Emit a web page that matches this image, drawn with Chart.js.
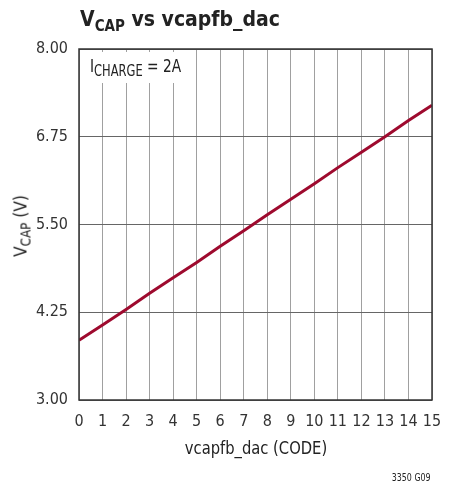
<!DOCTYPE html>
<html>
<head>
<meta charset="utf-8">
<script src="https://cdn.jsdelivr.net/npm/chart.js@4/dist/chart.umd.min.js"></script>
<style>
  body { margin: 0; background: #fff; }
  #wrap { position: relative; width: 456px; height: 485px; font-family: 'DejaVu Sans Condensed', 'Liberation Sans', sans-serif; color: #222; }
  #chart { position: absolute; left: 0; top: 0; }
  .txt { position: absolute; white-space: nowrap; line-height: 1; }
  .title { left: 80px; top: 9px; font-size: 21px; font-weight: bold; }
  .title sub { font-size: 15px; vertical-align: -5px; }
  .note { left: 81px; top: 52px; width: 112px; height: 31px; background: #fff; }
  .note span.i { position: absolute; left: 9px; top: 5px; font-size: 18px; transform: scaleX(0.85); transform-origin: left center; }
  .note sub { font-size: 15px; vertical-align: -4px; }
  .ytitle { left: 22px; top: 226px; font-size: 18px; transform: translate(-50%, -50%) rotate(-90deg) scaleX(0.95); }
  .ytitle sub { font-size: 14px; vertical-align: -4px; }
  .xtitle { left: 256px; top: 439px; font-size: 18px; transform: translateX(-50%) scaleX(0.91); }
  .foot { right: 25px; top: 472px; font-size: 11px; transform: scaleX(0.8); transform-origin: right center; }
</style>
</head>
<body>
<div id="wrap">
  <canvas id="chart" width="456" height="485"></canvas>
  <div class="txt title">V<sub>CAP</sub> vs vcapfb_dac</div>
  <div class="txt note"><span class="i">I<sub>CHARGE</sub> = 2A</span></div>
  <div class="txt ytitle">V<sub>CAP</sub> (V)</div>
  <div class="txt xtitle">vcapfb_dac (CODE)</div>
  <div class="txt foot">3350 G09</div>
</div>
<script>
const codes = [0, 1, 2, 3, 4, 5, 6, 7, 8, 9, 10, 11, 12, 13, 14, 15];
const vcap = [3.85, 4.07, 4.29, 4.52, 4.74, 4.96, 5.19, 5.41, 5.64, 5.86, 6.08, 6.31, 6.53, 6.75, 6.98, 7.20];
const yTicks = [3.00, 4.25, 5.50, 6.75, 8.00];

const tickFont = { family: "'DejaVu Sans Condensed', 'Liberation Sans', sans-serif", size: 16 };

// plot frame on all four sides
const frame = {
  id: 'frame',
  afterDraw(chart) {
    const { ctx, chartArea: a } = chart;
    ctx.save();
    ctx.strokeStyle = '#333';
    ctx.lineWidth = 1.5;
    ctx.strokeRect(a.left, a.top, a.right - a.left, a.bottom - a.top);
    ctx.restore();
  },
};

new Chart(document.getElementById('chart'), {
  type: 'line',
  data: {
    datasets: [{
      data: codes.map((c, i) => ({ x: c, y: vcap[i] })),
      borderColor: '#9e0a2e',
      borderWidth: 3,
      pointRadius: 0,
      tension: 0,
      fill: false,
    }],
  },
  options: {
    responsive: false,
    devicePixelRatio: 1,
    animation: false,
    layout: { padding: { left: 0, top: 49, right: 24, bottom: 0 } },
    plugins: { legend: { display: false }, tooltip: { enabled: false } },
    scales: {
      x: {
        type: 'linear',
        min: 0,
        max: 15,
        afterFit: (s) => { s.height = 85; },
        afterBuildTicks: (s) => { s.ticks = codes.map((v) => ({ value: v })); },
        grid: { color: '#a0a0a0', lineWidth: 1, drawTicks: false },
        border: { display: false },
        ticks: { font: tickFont, color: '#333', padding: 12, maxRotation: 0, autoSkip: false },
      },
      y: {
        min: 3,
        max: 8,
        afterFit: (s) => { s.width = 79; },
        afterBuildTicks: (s) => { s.ticks = yTicks.map((v) => ({ value: v })); },
        grid: { color: '#666', lineWidth: 1, drawTicks: false },
        border: { display: false },
        ticks: { font: tickFont, color: '#333', padding: 11, callback: (v) => Number(v).toFixed(2) },
      },
    },
  },
  plugins: [frame],
});
</script>
</body>
</html>
